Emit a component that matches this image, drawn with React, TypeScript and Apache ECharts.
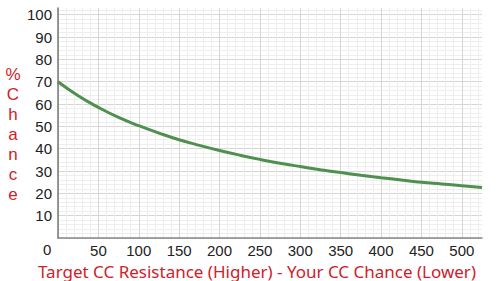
import React, { useEffect, useRef } from "react";
import * as echarts from "echarts";

const xValues = [0, 25, 50, 75, 100, 125, 150, 175, 200, 225, 250, 275, 300, 325, 350, 375, 400, 425, 450, 475, 500, 525];
const chanceValues = [70, 63.7, 58.5, 54, 50.3, 47, 44, 41.5, 39.2, 37.1, 35.2, 33.5, 32, 30.6, 29.3, 28.1, 27, 26, 25, 24.2, 23.4, 22.6];
const xTitle = "Target CC Resistance (Higher) - Your CC Chance (Lower)";
const yTitle = "% Chance";

export default function App() {
  const ref = useRef<HTMLDivElement>(null);
  useEffect(() => {
    if (!ref.current) return;
    const chart = echarts.init(ref.current, undefined, { renderer: "svg" });
    const red = "#d0202a";
    chart.setOption({
      animation: false,
      backgroundColor: "#ffffff",
      grid: { left: 58, right: 18, top: 8, bottom: 43 },
      xAxis: {
        type: "value",
        min: 0,
        max: 525,
        interval: 50,
        axisLine: { show: true, lineStyle: { color: "#888", width: 1.5 } },
        axisTick: { show: false },
        axisLabel: {
          color: "#222",
          fontFamily: "Liberation Sans",
          fontSize: 15,
          margin: 5,
          formatter: (v: number) => (v % 50 === 0 && v !== 0 ? String(v) : ""),
        },
        splitLine: { show: true, showMaxLine: false, lineStyle: { color: "#d6d6d6", width: 1 } },
        minorTick: { show: false, splitNumber: 5 },
        minorSplitLine: { show: true, lineStyle: { color: "#eeeeee", width: 1 } },
      },
      yAxis: {
        type: "value",
        min: 0,
        max: 103,
        interval: 10,
        axisLine: { show: true, lineStyle: { color: "#777", width: 1.5 } },
        axisTick: { show: false },
        axisLabel: {
          color: "#222",
          fontFamily: "Liberation Sans",
          fontSize: 15,
          margin: 6,
          formatter: (v: number) => (v % 10 === 0 && v !== 0 ? String(v) : ""),
        },
        splitLine: { show: true, showMaxLine: false, lineStyle: { color: "#d6d6d6", width: 1 } },
        minorTick: { show: false, splitNumber: 5 },
        minorSplitLine: { show: true, lineStyle: { color: "#eeeeee", width: 1 } },
      },
      graphic: [
        {
          type: "text",
          left: 43,
          top: 242,
          style: { text: "0", fill: "#222", font: "15px 'Liberation Sans'" },
        },
        {
          type: "text",
          x: 257,
          y: 271,
          style: {
            text: xTitle,
            fill: red,
            font: "17px 'Noto Sans'",
            align: "center",
            verticalAlign: "middle",
          },
        },
        {
          type: "text",
          x: 13,
          y: 134,
          style: {
            text: yTitle.replace(" ", "").split("").join("\n"),
            fill: red,
            font: "17px 'Liberation Sans'",
            lineHeight: 20,
            align: "center",
            verticalAlign: "middle",
          },
        },
      ],
      series: [
        {
          type: "line",
          data: xValues.map((x, i) => [x, chanceValues[i]]),
          smooth: true,
          showSymbol: false,
          lineStyle: { color: "#4f8f4f", width: 3 },
        },
      ],
    });
    return () => chart.dispose();
  }, []);
  return <div ref={ref} style={{ width: 500, height: 281, position: "absolute", left: 0, top: 0 }} />;
}
